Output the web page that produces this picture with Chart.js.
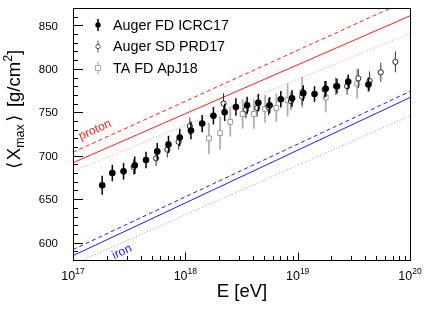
<!DOCTYPE html>
<html><head><meta charset="utf-8">
<script src="https://cdn.jsdelivr.net/npm/chart.js@4/dist/chart.umd.min.js"></script>
<style>html,body{margin:0;padding:0;background:#fff;}canvas{display:block;}</style>
</head><body>
<canvas id="c" width="432" height="316" style="width:432px;height:316px"></canvas>
<script>
// ---- data (lg E [eV], <Xmax> [g/cm^2]) ----
const fdLgE  = [17.26,17.35,17.45,17.55,17.65,17.75,17.85,17.95,18.05,18.15,18.25,18.35,18.45,18.55,18.65,18.75,18.85,18.95,19.05,19.15,19.25,19.35,19.45,19.63];
const fdXmax = [666,680,682,689,695,705,713,721,729,737,746,750,756,758,761,758,765,766,772,771,777,780,785,782];
const fdErr  = [11,9.5,9.5,10,9.5,9.5,10,10,10,10,10,10,10,10,10,9.5,9.5,9.5,9,9,9,8.5,8.5,8];

const sdLgE  = [17.54,17.74,17.84,17.94,18.04,18.34,18.54,18.64,18.74,18.94,19.04,19.24,19.34,19.44,19.54,19.64,19.74,19.87];
const sdXmax = [687,697,707,716,734,760,753,755,756,763,768,776,780,780,789,786,796,808];
const sdErr  = [9,9,9,9,10,12,10,10,10,10,10,10,10,10,11,11,11,12];

const taLgE  = [18.21,18.31,18.40,18.51,18.61,18.71,18.81,18.91,19.04,19.25,19.53];
const taXmax = [720,726,739,748,748,754,755,764,773,767,783];
const taErr  = [18,19,17,17,17,16,16,19,18,17,17];

const modelLgE      = [17, 20];
const protonSolid   = [692, 861];
const protonDashed  = [704, 880];
const protonDotted  = [682, 841];
const ironSolid     = [585, 767];
const ironDashed    = [592, 774];
const ironDotted    = [575, 746];

const yMajorTicks = [600, 650, 700, 750, 800, 850];
const xExponents  = [17, 18, 19, 20];
const legendLabels = ['Auger FD ICRC17', 'Auger SD PRD17', 'TA FD ApJ18'];

const FONT = '"Liberation Sans", Arial, Helvetica, sans-serif';
const pts = (lg, v) => lg.map((l, i) => ({x: Math.pow(10, l), y: v[i]}));

function lineDs(vals, color, dash) {
  return {data: pts(modelLgE, vals), showLine: true, pointRadius: 0, borderColor: color,
          borderWidth: 1, borderDash: dash, fill: false, order: 5};
}

const errorBars = {
  id: 'errorBars',
  beforeDatasetDraw(chart, args) {
    const ds = chart.data.datasets[args.index];
    if (!ds.errors) return;
    const ctx = chart.ctx, xs = chart.scales.x, ys = chart.scales.y, a = chart.chartArea;
    ctx.save();
    ctx.beginPath(); ctx.rect(a.left, a.top, a.right - a.left, a.bottom - a.top); ctx.clip();
    ctx.strokeStyle = ds.errColor; ctx.lineWidth = ds.errWidth;
    ds.data.forEach((p, i) => {
      const px = xs.getPixelForValue(p.x);
      ctx.beginPath();
      ctx.moveTo(px, ys.getPixelForValue(p.y - ds.errors[i]));
      ctx.lineTo(px, ys.getPixelForValue(p.y + ds.errors[i]));
      ctx.stroke();
    });
    ctx.restore();
  }
};

function richWidth(ctx, parts) {
  let w = 0;
  parts.forEach(p => { ctx.font = p.size + 'px ' + (p.font || FONT); w += ctx.measureText(p.t).width + (p.gap || 0); });
  return w;
}
function drawRich(ctx, parts, cx, baseY) {
  let x = cx - richWidth(ctx, parts) / 2;
  ctx.textAlign = 'left'; ctx.textBaseline = 'alphabetic';
  parts.forEach(p => {
    ctx.font = p.size + 'px ' + (p.font || FONT);
    ctx.fillText(p.t, x + (p.gap || 0) / 2, baseY + (p.dy || 0));
    x += ctx.measureText(p.t).width + (p.gap || 0);
  });
}

const decor = {
  id: 'decor',
  afterDraw(chart) {
    const ctx = chart.ctx, xs = chart.scales.x, ys = chart.scales.y, a = chart.chartArea;
    ctx.save();
    ctx.strokeStyle = '#000'; ctx.lineWidth = 1; ctx.fillStyle = '#000';
    // frame
    ctx.strokeRect(Math.round(a.left) + 0.5, Math.round(a.top) + 0.5, Math.round(a.right - a.left), Math.round(a.bottom - a.top));
    // y ticks
    for (let v = 580; v <= 870; v += 10) {
      const py = Math.round(ys.getPixelForValue(v)) + 0.5;
      const len = (v % 50 === 0) ? 10 : 5;
      ctx.beginPath(); ctx.moveTo(a.left, py); ctx.lineTo(a.left + len, py); ctx.stroke();
    }
    // x ticks
    xExponents.forEach((e, k) => {
      const px = Math.round(xs.getPixelForValue(Math.pow(10, e))) + 0.5;
      ctx.beginPath(); ctx.moveTo(px, a.bottom); ctx.lineTo(px, a.bottom - 7.5); ctx.stroke();
      if (k < xExponents.length - 1) {
        for (let m = 2; m <= 9; m++) {
          const qx = Math.round(xs.getPixelForValue(m * Math.pow(10, e))) + 0.5;
          ctx.beginPath(); ctx.moveTo(qx, a.bottom); ctx.lineTo(qx, a.bottom - 4); ctx.stroke();
        }
      }
    });
    // y tick labels
    ctx.font = '11.5px ' + FONT; ctx.textAlign = 'right'; ctx.textBaseline = 'middle';
    yMajorTicks.forEach(v => ctx.fillText(String(v), 58, ys.getPixelForValue(v) + 1));
    // x tick labels
    xExponents.forEach(e => {
      const px = xs.getPixelForValue(Math.pow(10, e));
      drawRich(ctx, [{t: '10', size: 12.5}, {t: String(e), size: 8.5, dy: -6.5}], px, 280);
    });
    // axis titles
    drawRich(ctx, [{t: 'E [eV]', size: 18.5}], 242, 297);
    ctx.save();
    ctx.translate(20, 110); ctx.rotate(-Math.PI / 2);
    drawRich(ctx, [
      {t: '\u27E8', size: 18, font: '"DejaVu Sans", sans-serif', gap: 3},
      {t: 'X', size: 18.5},
      {t: 'max', size: 12.5, dy: 4},
      {t: '\u27E9', size: 18, font: '"DejaVu Sans", sans-serif', gap: 5},
      {t: ' [g/cm', size: 18.5},
      {t: '2', size: 12.5, dy: -8},
      {t: ']', size: 18.5}
    ], 0, 0);
    ctx.restore();
    // model labels
    ctx.save();
    ctx.fillStyle = '#ff2020'; ctx.font = '12px ' + FONT; ctx.textAlign = 'center'; ctx.textBaseline = 'middle';
    ctx.translate(95, 130); ctx.rotate(-24 * Math.PI / 180); ctx.fillText('proton', 0, 0);
    ctx.restore();
    ctx.save();
    ctx.fillStyle = '#2020ff'; ctx.font = '12px ' + FONT; ctx.textAlign = 'center'; ctx.textBaseline = 'middle';
    ctx.translate(122, 252); ctx.rotate(-25 * Math.PI / 180); ctx.fillText('iron', 0, 0);
    ctx.restore();
    // legend
    const lx = 98, ly = [25, 46.5, 68];
    // FD
    ctx.strokeStyle = '#000'; ctx.lineWidth = 1.5;
    ctx.beginPath(); ctx.moveTo(lx, ly[0] - 6); ctx.lineTo(lx, ly[0] + 6); ctx.stroke();
    ctx.fillStyle = '#000'; ctx.beginPath(); ctx.arc(lx, ly[0], 2.7, 0, 2 * Math.PI); ctx.fill();
    // SD
    ctx.strokeStyle = '#555'; ctx.lineWidth = 1;
    ctx.beginPath(); ctx.moveTo(lx, ly[1] - 6); ctx.lineTo(lx, ly[1] + 6); ctx.stroke();
    ctx.fillStyle = '#fff'; ctx.beginPath(); ctx.arc(lx, ly[1], 2.2, 0, 2 * Math.PI); ctx.fill(); ctx.stroke();
    // TA
    ctx.strokeStyle = '#bbb'; ctx.lineWidth = 1.5;
    ctx.beginPath(); ctx.moveTo(lx, ly[2] - 6); ctx.lineTo(lx, ly[2] + 6); ctx.stroke();
    ctx.fillStyle = '#fff'; ctx.lineWidth = 1; ctx.strokeStyle = '#aaa';
    ctx.fillRect(lx - 2.5, ly[2] - 2.5, 5, 5); ctx.strokeRect(lx - 2.5, ly[2] - 2.5, 5, 5);
    ctx.fillStyle = '#000'; ctx.font = '14.3px ' + FONT; ctx.textAlign = 'left'; ctx.textBaseline = 'middle';
    legendLabels.forEach((t, i) => ctx.fillText(t, 113, ly[i] + 1));
    ctx.restore();
  }
};

new Chart(document.getElementById('c'), {
  type: 'scatter',
  data: {
    datasets: [
      {label: legendLabels[0], data: pts(fdLgE, fdXmax), errors: fdErr, errColor: '#000', errWidth: 1.5,
       pointRadius: 3.3, pointBackgroundColor: '#000', pointBorderColor: '#000', pointBorderWidth: 0, order: 0},
      {label: legendLabels[1], data: pts(sdLgE, sdXmax), errors: sdErr, errColor: '#333', errWidth: 1,
       pointRadius: 2.6, pointBackgroundColor: '#fff', pointBorderColor: '#222', pointBorderWidth: 1, order: 1},
      {label: legendLabels[2], data: pts(taLgE, taXmax), errors: taErr, errColor: '#b0b0b0', errWidth: 1.8,
       pointStyle: 'rect', pointRadius: 3.4, pointBackgroundColor: '#fff', pointBorderColor: '#999', pointBorderWidth: 1, order: 2},
      lineDs(protonSolid, '#ff1a1a', []),
      lineDs(protonDashed, '#ff1a1a', [4, 3]),
      lineDs(protonDotted, '#ff8c8c', [1, 2]),
      lineDs(ironSolid, '#1a1aff', []),
      lineDs(ironDashed, '#1a1aff', [4, 3]),
      lineDs(ironDotted, '#8c8cff', [1, 2])
    ]
  },
  options: {
    responsive: false, animation: false, devicePixelRatio: 1, events: [],
    layout: {padding: {left: 73, right: 22, top: 8, bottom: 56}},
    scales: {
      x: {type: 'logarithmic', min: 1e17, max: 1e20, display: false},
      y: {type: 'linear', min: 580, max: 870, display: false}
    },
    plugins: {legend: {display: false}, tooltip: {enabled: false}}
  },
  plugins: [errorBars, decor]
});
</script>
</body></html>
